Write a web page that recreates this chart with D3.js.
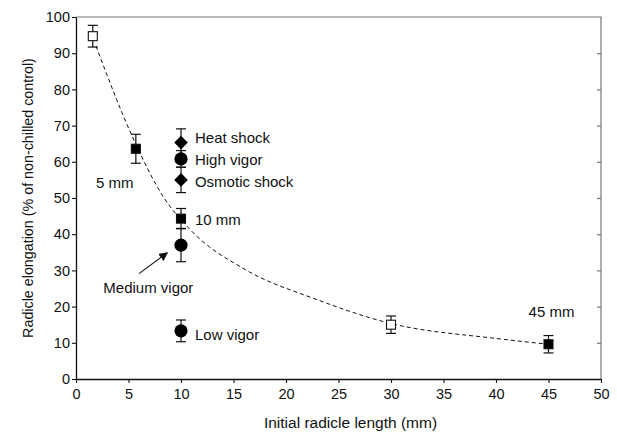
<!DOCTYPE html>
<html>
<head>
<meta charset="utf-8">
<script src="https://cdn.jsdelivr.net/npm/d3@7"></script>
<style>
  body { margin: 0; background: #fff; }
  svg text { font-family: "Liberation Sans", Arial, sans-serif; fill: #111; }
</style>
</head>
<body>
<svg id="chart" width="617" height="432"></svg>
<script>
// values
const curveX = [1.9, 5.3, 8.3, 10.9, 16.2, 22.6, 29.9, 40, 45];
const curveY = [92.0, 67.4, 50.4, 41.2, 30.1, 22.3, 15.4, 11.2, 9.6];

const squareX = [1.6, 5.7, 10, 30, 45];
const squareY = [94.7, 63.6, 44.3, 15.0, 9.6];
const squareErr = [3.0, 4.0, 2.8, 2.4, 2.4];
const squareFilled = [false, true, true, false, true];

const circleX = [10, 10, 10];
const circleY = [60.8, 37.0, 13.3];
const circleErr = [2.3, 4.6, 3.0];

const diamondX = [10, 10];
const diamondY = [65.3, 55.0];
const diamondErr = [3.8, 3.5];

const xTicks = [0, 5, 10, 15, 20, 25, 30, 35, 40, 45, 50];
const yTicks = [0, 10, 20, 30, 40, 50, 60, 70, 80, 90, 100];

// annotations, anchored (left edge, mid height) in data units
const notes = [
  { text: 'Heat shock', x: 11.33, y: 66.8 },
  { text: 'High vigor', x: 11.33, y: 60.5 },
  { text: 'Osmotic shock', x: 11.33, y: 54.5 },
  { text: '5 mm', x: 1.9, y: 54.2 },
  { text: '10 mm', x: 11.33, y: 44.1 },
  { text: 'Medium vigor', x: 2.6, y: 25.3 },
  { text: 'Low vigor', x: 11.33, y: 12.4 },
  { text: '45 mm', x: 43.1, y: 18.6 }
];

const margin = { top: 17, left: 76 },
  width = 525,
  height = 362;

const svg = d3.select('#chart');
const g = svg.append('g').attr('transform', `translate(${margin.left},${margin.top})`);

const x = d3.scaleLinear().domain([0, 50]).range([0, width]);
const y = d3.scaleLinear().domain([0, 100]).range([height, 0]);

// frame: top + right in grey
g.append('path')
  .attr('d', `M0,0H${width}V${height}`)
  .attr('fill', 'none')
  .attr('stroke', '#777')
  .attr('stroke-width', 1.2);

g.append('g')
  .attr('transform', `translate(${width},0)`)
  .call(d3.axisLeft(y).tickValues(yTicks.slice(1, -1)).tickSize(4).tickFormat(''))
  .call((a) => a.select('.domain').remove())
  .call((a) => a.selectAll('line').attr('stroke', '#777').attr('stroke-width', 1.2));

const xAxis = g.append('g')
  .attr('transform', `translate(0,${height})`)
  .call(d3.axisBottom(x).tickValues(xTicks).tickSize(4).tickSizeOuter(0).tickPadding(6));

const yAxis = g.append('g')
  .call(d3.axisLeft(y).tickValues(yTicks).tickSize(4).tickSizeOuter(0).tickPadding(2));

[xAxis, yAxis].forEach((a) => {
  a.select('.domain').attr('stroke', '#111').attr('stroke-width', 1.3);
  a.selectAll('line').attr('stroke', '#111').attr('stroke-width', 1.1);
  a.selectAll('text').attr('font-size', '14.5px').attr('fill', '#111');
});

svg.append('text')
  .attr('x', margin.left + width / 2 + 12)
  .attr('y', 428)
  .attr('text-anchor', 'middle')
  .attr('font-size', '15.5px')
  .text('Initial radicle length (mm)');

svg.append('text')
  .attr('transform', `translate(33,${margin.top + height / 2}) rotate(-90)`)
  .attr('text-anchor', 'middle')
  .attr('font-size', '14.3px')
  .text('Radicle elongation (% of non-chilled control)');

// fitted dashed curve
const line = d3.line()
  .x((d, i) => x(curveX[i]))
  .y((d) => y(d))
  .curve(d3.curveMonotoneX);

g.append('path')
  .datum(curveY)
  .attr('d', line)
  .attr('fill', 'none')
  .attr('stroke', '#111')
  .attr('stroke-width', 1)
  .attr('stroke-dasharray', '4,3');

// error bars
function errorBars(xs, ys, es) {
  const cap = 5;
  const eb = g.append('g').attr('stroke', '#111').attr('stroke-width', 1.2);
  xs.forEach((xv, i) => {
    const cx = x(xv), top = y(ys[i] + es[i]), bot = y(ys[i] - es[i]);
    eb.append('line').attr('x1', cx).attr('x2', cx).attr('y1', top).attr('y2', bot);
    eb.append('line').attr('x1', cx - cap).attr('x2', cx + cap).attr('y1', top).attr('y2', top);
    eb.append('line').attr('x1', cx - cap).attr('x2', cx + cap).attr('y1', bot).attr('y2', bot);
  });
}
errorBars(squareX, squareY, squareErr);
errorBars(circleX, circleY, circleErr);
errorBars(diamondX, diamondY, diamondErr);

// markers
g.selectAll('.sq')
  .data(squareY)
  .join('rect')
  .attr('class', 'sq')
  .attr('x', (d, i) => x(squareX[i]) - 4.5)
  .attr('y', (d) => y(d) - 4.5)
  .attr('width', 9)
  .attr('height', 9)
  .attr('fill', (d, i) => (squareFilled[i] ? '#000' : '#fff'))
  .attr('stroke', '#111')
  .attr('stroke-width', 1.1);

g.selectAll('.ci')
  .data(circleY)
  .join('circle')
  .attr('class', 'ci')
  .attr('cx', (d, i) => x(circleX[i]))
  .attr('cy', (d) => y(d))
  .attr('r', 6.6)
  .attr('fill', '#000');

g.selectAll('.di')
  .data(diamondY)
  .join('path')
  .attr('class', 'di')
  .attr('transform', (d, i) => `translate(${x(diamondX[i])},${y(d)})`)
  .attr('d', 'M0,-6.8L6.8,0L0,6.8L-6.8,0Z')
  .attr('fill', '#000');

// labels
g.selectAll('.note')
  .data(notes)
  .join('text')
  .attr('class', 'note')
  .attr('x', (d) => x(d.x))
  .attr('y', (d) => y(d.y))
  .attr('dy', '0.36em')
  .attr('font-size', '15px')
  .text((d) => d.text);

// arrow to medium vigor
svg.append('defs').append('marker')
  .attr('id', 'head')
  .attr('viewBox', '0 0 10 10')
  .attr('refX', 9)
  .attr('refY', 5)
  .attr('markerWidth', 9)
  .attr('markerHeight', 9)
  .attr('markerUnits', 'userSpaceOnUse')
  .attr('orient', 'auto')
  .append('path')
  .attr('d', 'M0,0L10,5L0,10Z')
  .attr('fill', '#111');

g.append('line')
  .attr('x1', x(6.0)).attr('y1', y(29.1))
  .attr('x2', x(8.7)).attr('y2', y(34.9))
  .attr('stroke', '#111')
  .attr('stroke-width', 1.1)
  .attr('marker-end', 'url(#head)');
</script>
</body>
</html>
